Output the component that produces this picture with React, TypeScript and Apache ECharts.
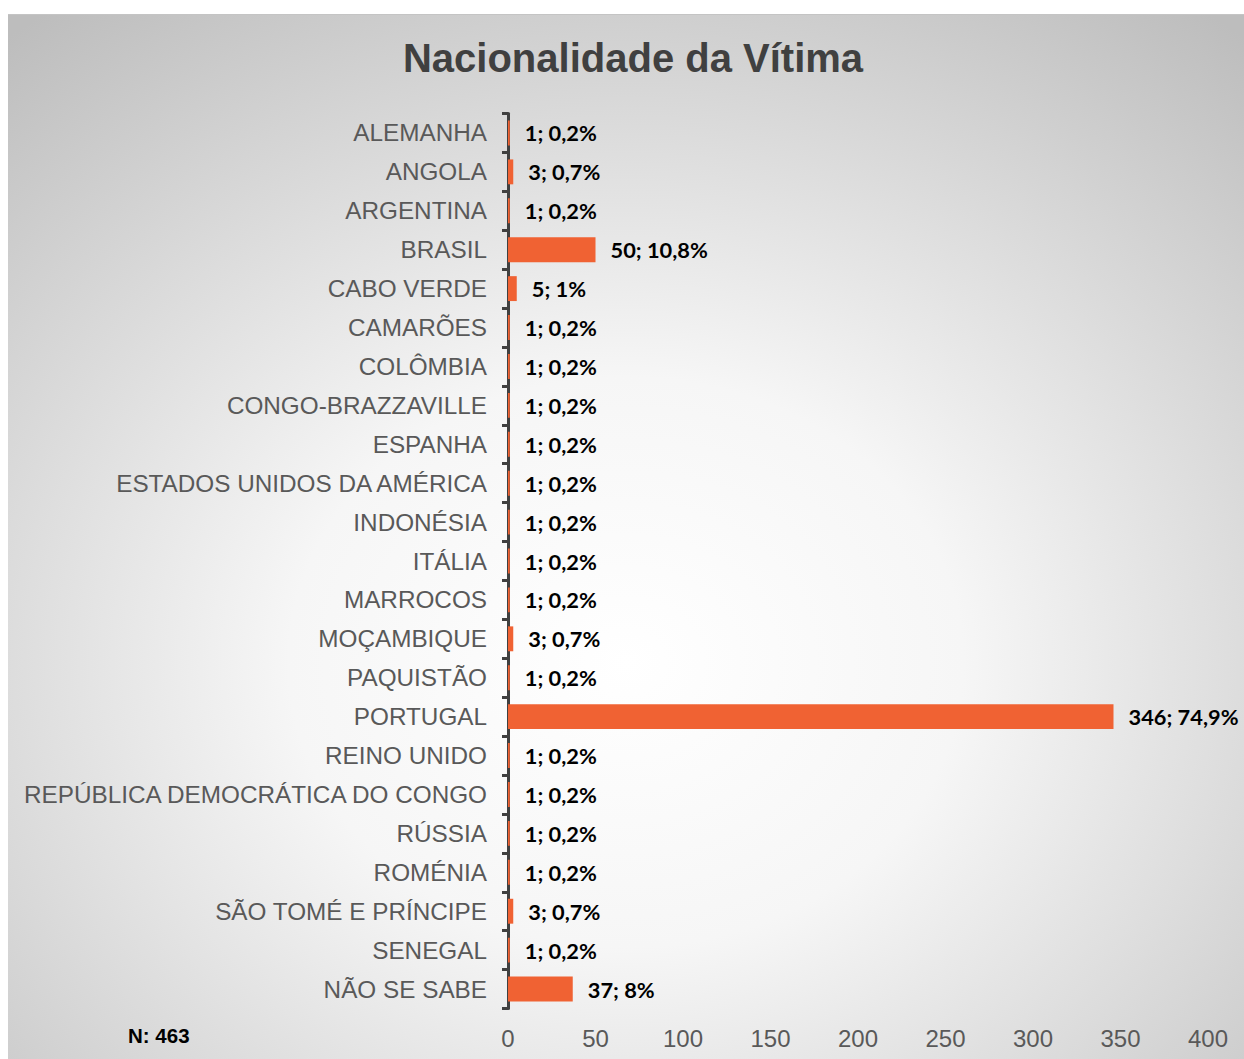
import React, { useEffect, useRef } from "react";
import * as echarts from "echarts";

const categories = [
  "ALEMANHA", "ANGOLA", "ARGENTINA", "BRASIL", "CABO VERDE", "CAMARÕES", "COLÔMBIA",
  "CONGO-BRAZZAVILLE", "ESPANHA", "ESTADOS UNIDOS DA AMÉRICA", "INDONÉSIA", "ITÁLIA",
  "MARROCOS", "MOÇAMBIQUE", "PAQUISTÃO", "PORTUGAL", "REINO UNIDO",
  "REPÚBLICA DEMOCRÁTICA DO CONGO", "RÚSSIA", "ROMÉNIA", "SÃO TOMÉ E PRÍNCIPE",
  "SENEGAL", "NÃO SE SABE",
];
const values = [1, 3, 1, 50, 5, 1, 1, 1, 1, 1, 1, 1, 1, 3, 1, 346, 1, 1, 1, 1, 3, 1, 37];
const percents = [
  "0,2%", "0,7%", "0,2%", "10,8%", "1%", "0,2%", "0,2%", "0,2%", "0,2%", "0,2%", "0,2%",
  "0,2%", "0,2%", "0,7%", "0,2%", "74,9%", "0,2%", "0,2%", "0,2%", "0,2%", "0,7%", "0,2%", "8%",
];
const xTicks = { min: 0, max: 400, interval: 50 };
const title = "Nacionalidade da Vítima";
const note = "N: 463";

export default function App() {
  const ref = useRef<HTMLDivElement>(null);
  useEffect(() => {
    if (!ref.current) return;
    const chart = echarts.init(ref.current, null, { renderer: "svg" });
    chart.setOption({
      animation: false,
      backgroundColor: {
        type: "radial",
        x: 0.5,
        y: 0.62,
        r: 0.78,
        colorStops: [
          { offset: 0, color: "#ffffff" },
          { offset: 0.35, color: "#f6f6f6" },
          { offset: 1, color: "#bdbdbd" },
        ],
      },
      graphic: [
        {
          type: "text",
          x: 625,
          y: 43,
          style: {
            text: title,
            textAlign: "center",
            textVerticalAlign: "middle",
            font: "bold 40px 'Liberation Sans', Arial, sans-serif",
            fill: "#404040",
          },
        },
        {
          type: "text",
          x: 120,
          y: 1020,
          style: {
            text: note,
            textAlign: "left",
            textVerticalAlign: "middle",
            font: "bold 20.5px 'Liberation Sans', Arial, sans-serif",
            fill: "#000000",
          },
        },
      ],
      grid: { left: 500, right: 36, top: 98.5, bottom: 50.5, containLabel: false },
      xAxis: {
        type: "value",
        min: xTicks.min,
        max: xTicks.max,
        interval: xTicks.interval,
        splitLine: { show: false },
        axisLine: { show: false },
        axisTick: { show: false },
        axisLabel: {
          color: "#595959",
          fontSize: 24,
          fontFamily: "'Liberation Sans', Arial, sans-serif",
          margin: 18,
        },
      },
      yAxis: {
        type: "category",
        data: categories,
        inverse: true,
        axisLine: { show: true, lineStyle: { color: "#404040", width: 3 } },
        axisTick: { show: true, length: 6, lineStyle: { color: "#404040", width: 3 } },
        axisLabel: {
          color: "#595959",
          fontSize: 24.3,
          fontFamily: "'Liberation Sans', Arial, sans-serif",
          margin: 21,
        },
      },
      series: [
        {
          type: "bar",
          data: values,
          barCategoryGap: "36%",
          itemStyle: { color: "#F06233" },
          label: {
            show: true,
            position: "right",
            distance: 15,
            color: "#000000",
            fontFamily: "Lato, 'Open Sans', sans-serif",
            fontWeight: "bold",
            fontSize: 21.8,
            formatter: (p: any) => `${values[p.dataIndex]}; ${percents[p.dataIndex]}`,
          },
        },
      ],
    });
    return () => chart.dispose();
  }, []);
  return (
    <div
      ref={ref}
      style={{
        position: "absolute",
        left: 8,
        top: 14,
        width: 1236,
        height: 1045,
        borderTop: "1px solid #c4c4c4",
        boxSizing: "border-box",
      }}
    />
  );
}
